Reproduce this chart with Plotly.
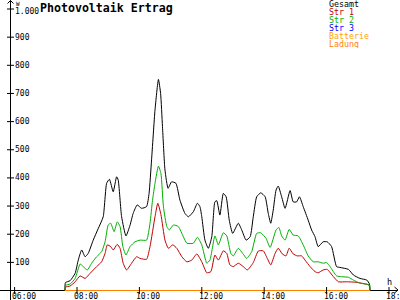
import plotly.graph_objects as go

# ---------------- data (time of day in hours, power in W) ----------------
gesamt = [(7.615, 0), (7.63, 28), (7.78, 35), (7.94, 61), (8.04, 108), (8.15, 144), (8.26, 120),
          (8.36, 132), (8.52, 179), (8.68, 220), (8.84, 262), (8.95, 381), (9.04, 395), (9.16, 351),
          (9.27, 404), (9.32, 393), (9.43, 262), (9.57, 194), (9.70, 232), (9.80, 274), (9.93, 304),
          (10.07, 292), (10.23, 298), (10.31, 345), (10.39, 464), (10.50, 641), (10.61, 750),
          (10.68, 700), (10.74, 582), (10.82, 428), (10.92, 363), (11.03, 386), (11.17, 381),
          (11.30, 321), (11.46, 274), (11.57, 262), (11.73, 280), (11.86, 310), (11.94, 298),
          (12.00, 262), (12.10, 179), (12.21, 150), (12.32, 191), (12.42, 315), (12.48, 319),
          (12.58, 268), (12.69, 345), (12.78, 333), (12.88, 250), (12.99, 203), (13.17, 239),
          (13.28, 215), (13.42, 179), (13.55, 191), (13.65, 262), (13.76, 333), (13.89, 347),
          (14.03, 333), (14.13, 274), (14.21, 239), (14.29, 286), (14.38, 357), (14.45, 371),
          (14.56, 333), (14.67, 292), (14.83, 355), (14.93, 315), (15.04, 315), (15.13, 333),
          (15.25, 298), (15.41, 250), (15.52, 215), (15.63, 191), (15.73, 156), (15.89, 173),
          (16.02, 173), (16.16, 156), (16.32, 85), (16.43, 82), (16.70, 75), (16.86, 55),
          (17.07, 43), (17.29, 37), (17.375, 23), (17.39, 0)]

str1 = [(7.615, 0), (7.63, 12), (7.78, 16), (7.94, 31), (8.10, 52), (8.26, 43), (8.42, 61),
        (8.63, 85), (8.79, 102), (8.90, 132), (8.97, 162), (9.08, 156), (9.16, 144), (9.29, 164),
        (9.38, 150), (9.48, 97), (9.59, 73), (9.75, 97), (9.91, 120), (10.02, 114), (10.23, 111),
        (10.34, 156), (10.50, 262), (10.59, 310), (10.69, 270), (10.82, 179), (10.93, 150),
        (11.07, 162), (11.20, 150), (11.36, 120), (11.52, 102), (11.68, 108), (11.84, 130),
        (12.00, 102), (12.16, 63), (12.29, 67), (12.42, 126), (12.53, 108), (12.69, 141),
        (12.80, 132), (12.90, 91), (13.01, 85), (13.17, 97), (13.33, 85), (13.46, 73),
        (13.65, 99), (13.81, 140), (13.97, 141), (14.10, 114), (14.21, 91), (14.35, 132),
        (14.45, 150), (14.58, 130), (14.70, 123), (14.80, 150), (14.93, 130), (15.06, 123),
        (15.20, 123), (15.31, 108), (15.47, 85), (15.63, 67), (15.73, 63), (15.89, 73),
        (16.02, 75), (16.22, 49), (16.38, 31), (16.64, 31), (16.97, 29), (17.34, 20),
        (17.375, 14), (17.39, 0)]

str2 = [(7.615, 0), (7.63, 18), (7.78, 23), (7.94, 43), (8.10, 94), (8.20, 85), (8.33, 73),
        (8.47, 97), (8.63, 120), (8.79, 138), (8.90, 173), (9.00, 233), (9.08, 239), (9.19, 209),
        (9.29, 244), (9.38, 227), (9.47, 156), (9.57, 126), (9.70, 156), (9.86, 173),
        (10.02, 179), (10.23, 179), (10.34, 239), (10.42, 320), (10.50, 381), (10.61, 442),
        (10.69, 416), (10.77, 298), (10.88, 227), (10.96, 215), (11.09, 233), (11.25, 227),
        (11.41, 191), (11.52, 168), (11.73, 168), (11.86, 189), (12.00, 162), (12.16, 97),
        (12.26, 108), (12.42, 194), (12.53, 162), (12.69, 205), (12.80, 194), (12.93, 132),
        (13.01, 123), (13.17, 150), (13.31, 132), (13.44, 114), (13.60, 138), (13.76, 203),
        (13.89, 205), (14.06, 185), (14.19, 153), (14.38, 215), (14.47, 224), (14.56, 194),
        (14.67, 179), (14.80, 217), (14.93, 197), (15.09, 194), (15.25, 162), (15.41, 123),
        (15.57, 102), (15.73, 102), (15.89, 97), (16.00, 99), (16.11, 85), (16.32, 52),
        (16.48, 49), (16.70, 47), (16.86, 37), (17.07, 26), (17.375, 20), (17.39, 0)]

str3 = [(7.615, 0), (17.39, 0)]
batterie = [(7.615, 0), (17.39, 0)]
ladung = [(7.615, 0), (17.39, 0)]

series_names = ["Gesamt", "Str 1", "Str 2", "Str 3", "Batterie", "Ladung"]
series_data = [gesamt, str1, str2, str3, batterie, ladung]
series_colors = ["#000000", "#c00000", "#00b000", "#0000ff", "#ffa500", "#ff8000"]

y_ticks = [100, 200, 300, 400, 500, 600, 700, 800, 900, 1000]
y_tick_labels = ["100", "200", "300", "400", "500", "600", "700", "800", "900", "1.000"]
x_ticks = [6, 8, 10, 12, 14, 16, 18]
x_tick_labels = ["06:00", "08:00", "10:00", "12:00", "14:00", "16:00", "18:00"]

title_text = "Photovoltaik Ertrag"

# ---------------- geometry ----------------
W, H = 400, 300
X_RANGE = [5.532, 18.353]
Y_RANGE = [-33.7, 1032]
Y_AXIS_X = 5.8686  # hour where the vertical axis sits
FONT = "DejaVu Sans Mono"


def px(x):
    return x / W


def py(y):
    return 1 - y / H


fig = go.Figure()

for name, data, col in zip(series_names, series_data, series_colors):
    fig.add_trace(go.Scatter(
        x=[p[0] for p in data], y=[p[1] for p in data], mode="lines", name=name,
        line=dict(color=col, width=1, shape="spline", smoothing=0.5),
        showlegend=False, hoverinfo="skip"))

# tick marks (through the axes scales)
fig.add_trace(go.Scatter(
    x=x_ticks, y=[0] * len(x_ticks), mode="markers", showlegend=False, hoverinfo="skip",
    marker=dict(symbol="line-ns", size=5, line=dict(width=1, color="black"))))
fig.add_trace(go.Scatter(
    x=[Y_AXIS_X] * len(y_ticks), y=y_ticks, mode="markers", showlegend=False, hoverinfo="skip",
    marker=dict(symbol="line-ew", size=5, line=dict(width=1, color="black"))))

shapes = [
    # x axis
    dict(type="line", xref="paper", yref="y", x0=0, x1=px(398), y0=0, y1=0,
         line=dict(color="black", width=1), layer="below"),
    # y axis
    dict(type="line", xref="x", yref="paper", x0=Y_AXIS_X, x1=Y_AXIS_X, y0=0, y1=py(0.5),
         line=dict(color="black", width=1), layer="below"),
    # arrow heads
    dict(type="path", xref="paper", yref="paper",
         path=f"M {px(7.5)} {py(3.5)} L {px(10.5)} {py(0.5)} L {px(13.5)} {py(3.5)}",
         line=dict(color="black", width=1)),
    dict(type="path", xref="paper", yref="paper",
         path=f"M {px(394.5)} {py(287)} L {px(398)} {py(290)} L {px(394.5)} {py(293)}",
         line=dict(color="black", width=1)),
]
fig.update_layout(shapes=shapes)

ann = []
# title
ann.append(dict(text=f"<b>{title_text}</b>", x=px(38), y=py(8), xref="paper", yref="paper",
                xanchor="left", yanchor="middle", showarrow=False,
                font=dict(family=FONT, size=11.6, color="black")))
# unit labels
ann.append(dict(text="W", x=px(14), y=py(3), xref="paper", yref="paper", xanchor="left",
                yanchor="middle", showarrow=False, font=dict(family=FONT, size=6, color="black")))
ann.append(dict(text="h", x=px(385), y=py(282), xref="paper", yref="paper", xanchor="left",
                yanchor="middle", showarrow=False, font=dict(family=FONT, size=8.5, color="black")))
# y tick labels
for v, lab in zip(y_ticks, y_tick_labels):
    ann.append(dict(text=lab, x=px(12.5), y=v, xref="paper", yref="y", xanchor="left",
                    yanchor="middle", yshift=(-2 if v == 1000 else 0), showarrow=False,
                    font=dict(family=FONT, size=8, color="black")))
# x tick labels
for t, lab in zip(x_ticks, x_tick_labels):
    ann.append(dict(text=lab, x=t, y=py(296.5), xref="x", yref="paper", xanchor="left",
                    xshift=-5, yanchor="middle", showarrow=False,
                    font=dict(family=FONT, size=8, color="black")))
# legend (coloured text)
for i, (name, col) in enumerate(zip(series_names, series_colors)):
    ann.append(dict(text=name, x=px(328), y=py(4 + 8.1 * i), xref="paper", yref="paper",
                    xanchor="left", yanchor="middle", showarrow=False, height=8, borderpad=0,
                    valign="middle", font=dict(family=FONT, size=8.3, color=col)))

fig.update_layout(
    annotations=ann,
    width=W, height=H, margin=dict(l=0, r=0, t=0, b=0),
    paper_bgcolor="white", plot_bgcolor="white",
    xaxis=dict(range=X_RANGE, visible=False, fixedrange=True),
    yaxis=dict(range=Y_RANGE, visible=False, fixedrange=True),
    showlegend=False,
)

fig.write_html("out.html", config=dict(displayModeBar=False))
